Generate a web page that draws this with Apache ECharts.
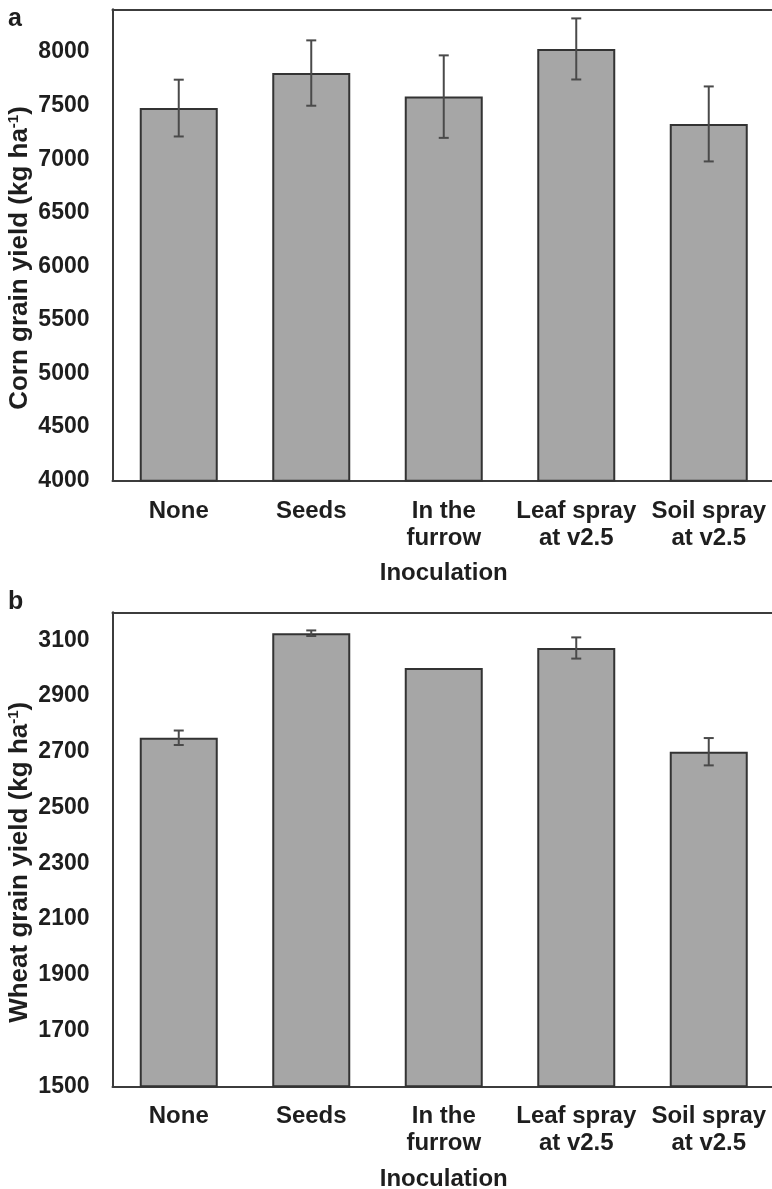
<!DOCTYPE html>
<html>
<head>
<meta charset="utf-8">
<script src="https://cdn.jsdelivr.net/npm/echarts@6/dist/echarts.min.js"></script>
<style>
  html, body { margin: 0; padding: 0; background: #fff; }
  #chart { width: 772px; height: 1189px; }
</style>
</head>
<body>
<div id="chart"></div>
<script>
// Inoculation treatments (shared by both panels)
const categories = ['None', 'Seeds', 'In the\nfurrow', 'Leaf spray\nat v2.5', 'Soil spray\nat v2.5'];

// Panel a: corn grain yield (kg ha-1), mean and error half-width
const cornMean = [7478, 7805, 7585, 8030, 7330];
const cornErr  = [265, 305, 385, 285, 350];

// Panel b: wheat grain yield (kg ha-1), mean and error half-width
const wheatMean = [2750, 3125, 3000, 3072, 2700];
const wheatErr  = [26, 10, 0, 38, 49];

// Y axis tick labels
const cornTicks  = [4000, 4500, 5000, 5500, 6000, 6500, 7000, 7500, 8000];
const wheatTicks = [1500, 1700, 1900, 2100, 2300, 2500, 2700, 2900, 3100];

const FONT = 'Liberation Sans';
const TEXT = '#1e1e1e';
const AXIS = '#3c3c3c';

function errData(mean, err) {
  return mean.map((m, i) => [i, m - err[i], m + err[i]]);
}

function renderErr(params, api) {
  if (api.value(2) - api.value(1) <= 0) return null;
  const lo = api.coord([api.value(0), api.value(1)]);
  const hi = api.coord([api.value(0), api.value(2)]);
  const cap = 5;
  const style = { stroke: '#4a4a4a', lineWidth: 2 };
  return {
    type: 'group',
    children: [
      { type: 'line', shape: { x1: hi[0], y1: hi[1], x2: lo[0], y2: lo[1] }, style },
      { type: 'line', shape: { x1: hi[0] - cap, y1: hi[1], x2: hi[0] + cap, y2: hi[1] }, style },
      { type: 'line', shape: { x1: lo[0] - cap, y1: lo[1], x2: lo[0] + cap, y2: lo[1] }, style }
    ]
  };
}

function catAxis(gridIndex, gap) {
  return {
    type: 'category', gridIndex, data: categories,
    name: 'Inoculation', nameLocation: 'middle', nameGap: gap, nameMoveOverlap: false,
    nameTextStyle: { fontFamily: FONT, fontWeight: 'bold', fontSize: 24, color: TEXT, lineHeight: 26 },
    axisLine: { show: true, lineStyle: { color: AXIS, width: 2 } },
    axisTick: { show: false },
    axisLabel: { interval: 0, margin: 17, fontFamily: FONT, fontWeight: 'bold', fontSize: 24, lineHeight: 27, color: TEXT }
  };
}

function topLine(gridIndex) {
  return {
    type: 'category', gridIndex, position: 'top', data: categories,
    axisLine: { show: true, lineStyle: { color: AXIS, width: 2 } },
    axisTick: { show: false }, axisLabel: { show: false }
  };
}

function valAxis(gridIndex, min, max, interval, ticks, title) {
  return {
    type: 'value', gridIndex, min, max, interval,
    name: title, nameLocation: 'middle', nameGap: 80, nameRotate: 90, nameMoveOverlap: false,
    nameTextStyle: {
      fontFamily: FONT, fontWeight: 'bold', fontSize: 26, color: TEXT,
      padding: [0, 26, 0, 0],
      rich: { sup: { fontFamily: FONT, fontWeight: 'bold', fontSize: 15, color: TEXT, verticalAlign: 'top' } }
    },
    axisLine: { show: true, lineStyle: { color: AXIS, width: 2 } },
    axisTick: { show: false },
    splitLine: { show: false },
    axisLabel: {
      margin: 23, fontFamily: FONT, fontWeight: 'bold', fontSize: 23, color: TEXT,
      formatter: v => (ticks.indexOf(v) >= 0 ? String(v) : '')
    }
  };
}

const barStyle = { color: '#a6a6a6', borderColor: '#333333', borderWidth: 2 };

const option = {
  animation: false,
  backgroundColor: '#ffffff',
  title: [
    { text: 'a', left: 3, top: 2, textStyle: { fontFamily: FONT, fontWeight: 'bold', fontSize: 25, color: TEXT } },
    { text: 'b', left: 3, top: 585, textStyle: { fontFamily: FONT, fontWeight: 'bold', fontSize: 25, color: TEXT } }
  ],
  grid: [
    { left: 112.5, right: -3, top: 9.3, height: 471.4, outerBoundsMode: 'none' },
    { left: 112.5, right: -3, top: 612.3, height: 474, outerBoundsMode: 'none' }
  ],
  xAxis: [catAxis(0, 80), catAxis(1, 80), topLine(0), topLine(1)],
  yAxis: [
    valAxis(0, 4000, 8400, 100, cornTicks, 'Corn grain yield (kg ha{sup|-1})'),
    valAxis(1, 1500, 3200, 100, wheatTicks, 'Wheat grain yield (kg ha{sup|-1})')
  ],
  series: [
    { type: 'bar', xAxisIndex: 0, yAxisIndex: 0, data: cornMean, barWidth: 78, itemStyle: barStyle },
    { type: 'custom', xAxisIndex: 0, yAxisIndex: 0, data: errData(cornMean, cornErr), renderItem: renderErr, encode: { x: 0, y: [1, 2] }, z: 3 },
    { type: 'bar', xAxisIndex: 1, yAxisIndex: 1, data: wheatMean, barWidth: 78, itemStyle: barStyle },
    { type: 'custom', xAxisIndex: 1, yAxisIndex: 1, data: errData(wheatMean, wheatErr), renderItem: renderErr, encode: { x: 0, y: [1, 2] }, z: 3 }
  ]
};

const chart = echarts.init(document.getElementById('chart'), null, { renderer: 'canvas' });
chart.setOption(option);
</script>
</body>
</html>
